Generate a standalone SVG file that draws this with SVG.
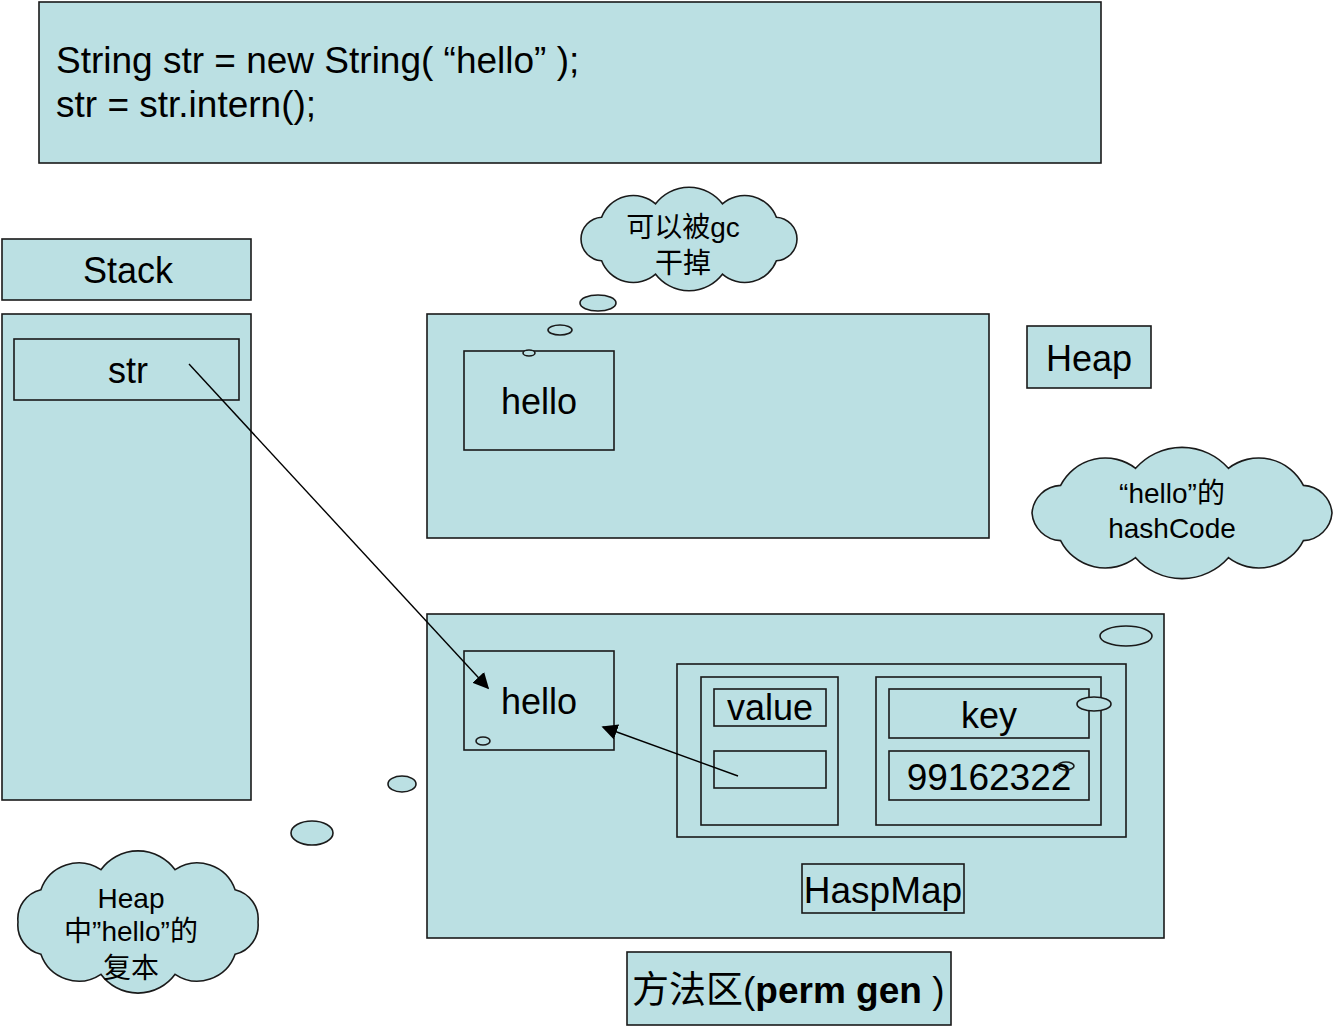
<svg xmlns="http://www.w3.org/2000/svg" width="1340" height="1027" viewBox="0 0 1340 1027">
<defs>
<style>
.box{fill:#BBE0E3;stroke:#1a1a1a;stroke-width:1.6}
.ell{fill:#BBE0E3;stroke:#1a1a1a;stroke-width:1.6}
.ellw{fill:none;stroke:#1a1a1a;stroke-width:1.6}
.t{font-family:"Liberation Sans","Noto Sans CJK SC",sans-serif;fill:#000;font-size:36px}
.c{text-anchor:middle}
.ct{font-family:"Liberation Sans","Noto Sans CJK SC",sans-serif;fill:#000;font-size:28px;text-anchor:middle}
.conn{stroke:#000;stroke-width:1.4;fill:none}
</style>
<marker id="arr" viewBox="0 0 10 10" refX="9" refY="5" markerWidth="16" markerHeight="16" markerUnits="userSpaceOnUse" orient="auto">
<path d="M0,0 L10,5 L0,10 z" fill="#000"/>
</marker>
</defs>
<rect width="1340" height="1027" fill="#fff"/>

<g id="code">
<rect class="box" x="39" y="2" width="1062" height="161"/>
<text class="t" x="56" y="73" style="font-size:37px">String str = new String( “hello” );</text>
<text class="t" x="56" y="117" style="font-size:37px">str = str.intern();</text>
</g>

<g id="stack-label">
<rect class="box" x="2" y="239" width="249" height="61"/>
<text class="t c" x="128" y="283">Stack</text>
</g>

<g id="stack">
<rect class="box" x="2" y="314" width="249" height="486"/>
</g>
<g id="str">
<rect class="box" x="14" y="339" width="225" height="61"/>
<text class="t c" x="128" y="383">str</text>
</g>

<g id="heap">
<rect class="box" x="427" y="314" width="562" height="224"/>
</g>
<g id="heap-hello">
<rect class="box" x="464" y="351" width="150" height="99"/>
<text class="t c" x="539" y="414">hello</text>
</g>

<g id="heap-label">
<rect class="box" x="1027" y="326" width="124" height="62"/>
<text class="t c" x="1089" y="371">Heap</text>
</g>

<g id="cloud-gc">
<path class="box" d="M581,239 A22,22 0 0 1 601.6,217.2 A34,34 0 0 1 655.6,203.8 A42,42 0 0 1 722.4,203.8 A34,34 0 0 1 776.4,217.2 A22,22 0 0 1 797,239 A22,22 0 0 1 776.4,260.8 A34,34 0 0 1 722.4,274.2 A42,42 0 0 1 655.6,274.2 A34,34 0 0 1 601.6,260.8 A22,22 0 0 1 581,239 Z"/>
<text class="ct" x="683" y="237">可以被gc</text>
<text class="ct" x="683" y="273">干掉</text>
<ellipse class="ell" cx="598" cy="303" rx="18" ry="8"/>
<ellipse class="ell" cx="560" cy="330" rx="12" ry="5"/>
<ellipse class="ell" cx="529" cy="353" rx="6" ry="3"/>
</g>

<g id="cloud-hash">
<path class="box" d="M1032,513 A30,30 0 0 1 1060.6,485.4 A50,50 0 0 1 1135.6,468.3 A62,62 0 0 1 1228.4,468.3 A50,50 0 0 1 1303.4,485.4 A30,30 0 0 1 1332,513 A30,30 0 0 1 1303.4,540.6 A50,50 0 0 1 1228.4,557.7 A62,62 0 0 1 1135.6,557.7 A50,50 0 0 1 1060.6,540.6 A30,30 0 0 1 1032,513 Z"/>
<text class="ct" x="1172" y="503">“hello”的</text>
<text class="ct" x="1172" y="538">hashCode</text>
</g>

<g id="perm">
<rect class="box" x="427" y="614" width="737" height="324"/>
<ellipse class="ellw" cx="1126" cy="636" rx="26" ry="10"/>
</g>
<g id="perm-hello">
<rect class="box" x="464" y="651" width="150" height="99"/>
<text class="t c" x="539" y="714">hello</text>
<ellipse class="ellw" cx="483" cy="741" rx="7" ry="4"/>
</g>

<g id="hashmap">
<rect class="box" x="677" y="664" width="449" height="173"/>
</g>
<g id="value-col">
<rect class="box" x="701" y="677" width="137" height="148"/>
<rect class="box" x="714" y="689" width="112" height="37"/>
<text class="t c" x="770" y="720">value</text>
<rect class="box" x="714" y="751" width="112" height="37"/>
</g>
<g id="key-col">
<rect class="box" x="876" y="677" width="225" height="148"/>
<rect class="box" x="889" y="689" width="200" height="49"/>
<text class="t c" x="989" y="728">key</text>
<rect class="box" x="889" y="751" width="200" height="49"/>
<text class="t c" x="989" y="790" style="font-size:37px">99162322</text>
<ellipse class="ell" cx="1094" cy="704" rx="17" ry="7"/>
<ellipse class="ellw" cx="1066" cy="766" rx="8" ry="4"/>
</g>

<g id="hashmap-label">
<rect class="box" x="802" y="864" width="162" height="49"/>
<text class="t c" x="883" y="903" style="font-size:37px">HaspMap</text>
</g>

<g id="perm-label">
<rect class="box" x="627" y="952" width="324" height="73"/>
<text class="t" x="632" y="1003" style="font-size:37px">方法区(<tspan font-weight="bold">perm gen</tspan> )</text>
</g>

<g id="cloud-copy">
<path class="box" d="M18,922 A30,30 0 0 1 40.9,889.7 A40,40 0 0 1 100.9,869.7 A46,46 0 0 1 175.1,869.7 A40,40 0 0 1 235.1,889.7 A30,30 0 0 1 258,922 A30,30 0 0 1 235.1,954.3 A40,40 0 0 1 175.1,974.3 A46,46 0 0 1 100.9,974.3 A40,40 0 0 1 40.9,954.3 A30,30 0 0 1 18,922 Z"/>
<text class="ct" x="131" y="908">Heap</text>
<text class="ct" x="131" y="941">中”hello”的</text>
<text class="ct" x="131" y="978">复本</text>
<ellipse class="ell" cx="312" cy="833" rx="21" ry="12"/>
<ellipse class="ell" cx="402" cy="784" rx="14" ry="8"/>
</g>

<g id="connectors">
<line class="conn" x1="189" y1="364" x2="488" y2="688" marker-end="url(#arr)"/>
<line class="conn" x1="738" y1="776" x2="603" y2="727" marker-end="url(#arr)"/>
</g>
</svg>
